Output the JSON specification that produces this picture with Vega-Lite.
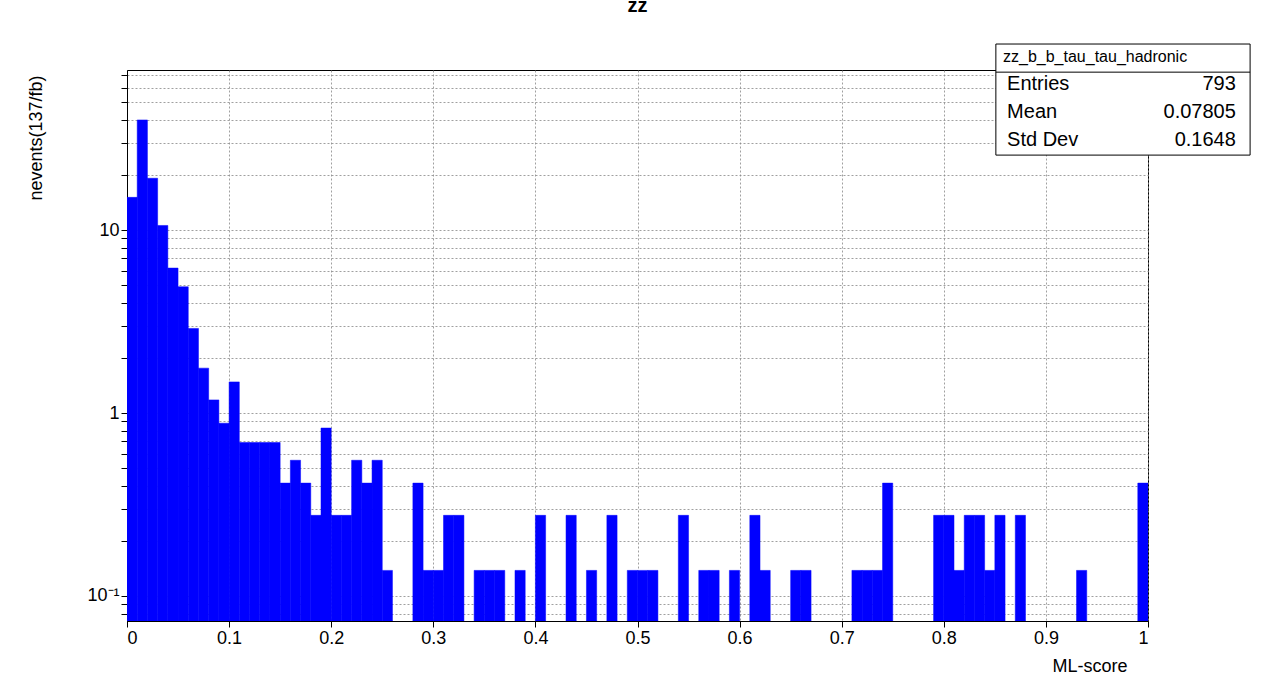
{
  "$schema": "https://vega.github.io/schema/vega-lite/v6.json",
  "autosize": "none",
  "width": 1021,
  "height": 551,
  "padding": {"left": 127, "top": 70, "right": 128, "bottom": 71},
  "background": "white",
  "config": {
    "font": "Liberation Sans",
    "view": {"stroke": "black", "strokeWidth": 1},
    "axis": {"gridColor": "#888", "gridDash": [2, 2], "gridWidth": 0.8, "domainColor": "black", "tickColor": "black", "labelColor": "black", "titleColor": "black", "labelFontSize": 18, "titleFontSize": 18, "titleFontWeight": "normal"}
  },
  "title": {"text": "zz", "fontSize": 20, "fontWeight": "bold", "offset": 30, "color": "black", "baseline": "middle", "dy": 12},
  "datasets": {
    "bins": [
      {"lo": 0.00, "n": 15.1}, {"lo": 0.01, "n": 40}, {"lo": 0.02, "n": 19.2}, {"lo": 0.03, "n": 10.6},
      {"lo": 0.04, "n": 6.2}, {"lo": 0.05, "n": 4.9}, {"lo": 0.06, "n": 2.9}, {"lo": 0.07, "n": 1.76},
      {"lo": 0.08, "n": 1.18}, {"lo": 0.09, "n": 0.88}, {"lo": 0.10, "n": 1.48}, {"lo": 0.11, "n": 0.69},
      {"lo": 0.12, "n": 0.69}, {"lo": 0.13, "n": 0.69}, {"lo": 0.14, "n": 0.69}, {"lo": 0.15, "n": 0.414},
      {"lo": 0.16, "n": 0.552}, {"lo": 0.17, "n": 0.414}, {"lo": 0.18, "n": 0.276}, {"lo": 0.19, "n": 0.828},
      {"lo": 0.20, "n": 0.276}, {"lo": 0.21, "n": 0.276}, {"lo": 0.22, "n": 0.552}, {"lo": 0.23, "n": 0.414},
      {"lo": 0.24, "n": 0.552}, {"lo": 0.25, "n": 0.138}, {"lo": 0.28, "n": 0.414}, {"lo": 0.29, "n": 0.138},
      {"lo": 0.30, "n": 0.138}, {"lo": 0.31, "n": 0.276}, {"lo": 0.32, "n": 0.276}, {"lo": 0.34, "n": 0.138},
      {"lo": 0.35, "n": 0.138}, {"lo": 0.36, "n": 0.138}, {"lo": 0.38, "n": 0.138}, {"lo": 0.40, "n": 0.276},
      {"lo": 0.43, "n": 0.276}, {"lo": 0.45, "n": 0.138}, {"lo": 0.47, "n": 0.276}, {"lo": 0.49, "n": 0.138},
      {"lo": 0.50, "n": 0.138}, {"lo": 0.51, "n": 0.138}, {"lo": 0.54, "n": 0.276}, {"lo": 0.56, "n": 0.138},
      {"lo": 0.57, "n": 0.138}, {"lo": 0.59, "n": 0.138}, {"lo": 0.61, "n": 0.276}, {"lo": 0.62, "n": 0.138},
      {"lo": 0.65, "n": 0.138}, {"lo": 0.66, "n": 0.138}, {"lo": 0.71, "n": 0.138}, {"lo": 0.72, "n": 0.138},
      {"lo": 0.73, "n": 0.138}, {"lo": 0.74, "n": 0.414}, {"lo": 0.79, "n": 0.276}, {"lo": 0.80, "n": 0.276},
      {"lo": 0.81, "n": 0.138}, {"lo": 0.82, "n": 0.276}, {"lo": 0.83, "n": 0.276}, {"lo": 0.84, "n": 0.138},
      {"lo": 0.85, "n": 0.276}, {"lo": 0.87, "n": 0.276}, {"lo": 0.93, "n": 0.138}, {"lo": 0.99, "n": 0.414}
    ],
    "stats": [
      {"label": "Entries", "value": "793", "y": 63},
      {"label": "Mean", "value": "0.07805", "y": 44},
      {"label": "Std Dev", "value": "0.1648", "y": 31}
    ]
  },
  "layer": [
    {
      "data": {"name": "bins"},
      "transform": [{"calculate": "datum.lo + 0.01", "as": "hi"}],
      "mark": {"type": "bar", "fill": "#0000ff", "stroke": "#0000ff", "strokeWidth": 0.5, "clip": true},
      "encoding": {
        "x": {"field": "lo", "type": "quantitative", "scale": {"domain": [0, 1], "nice": false},
          "axis": {"values": [0, 0.1, 0.2, 0.3, 0.4, 0.5, 0.6, 0.7, 0.8, 0.9, 1], "labelExpr": "datum.value == 0 || datum.value == 1 ? format(datum.value, 'd') : format(datum.value, '.1f')", "title": "ML-score", "titleAnchor": "end", "titleAlign": "right", "titleX": 1000, "titleY": 36, "tickSize": 6, "labelPadding": 2}},
        "x2": {"field": "hi"},
        "y": {"field": "n", "type": "quantitative", "scale": {"type": "log", "domain": [0.073, 75], "nice": false},
          "axis": {"values": [0.08, 0.09, 0.1, 0.2, 0.3, 0.4, 0.5, 0.6, 0.7, 0.8, 0.9, 1, 2, 3, 4, 5, 6, 7, 8, 9, 10, 20, 30, 40, 50, 60, 70],
            "labelExpr": "datum.value == 0.1 ? '10⁻¹' : (datum.value == 1 || datum.value == 10) ? format(datum.value, 'd') : ''",
            "title": "nevents(137/fb)", "titleAnchor": "end", "titleX": -82, "titleY": 5, "tickSize": 6}},
        "y2": {"datum": 0.073}
      }
    },
    {
      "data": {"values": [{}]},
      "mark": {"type": "rect", "fill": "white", "stroke": "black", "strokeWidth": 1, "clip": false},
      "encoding": {"x": {"datum": 0.851}, "x2": {"datum": 1.1}, "y": {"datum": 104}, "y2": {"datum": 25.7}}
    },
    {
      "data": {"values": [{}]},
      "mark": {"type": "rule", "stroke": "black", "strokeWidth": 1, "clip": false},
      "encoding": {"x": {"datum": 0.851}, "x2": {"datum": 1.1}, "y": {"datum": 73}}
    },
    {
      "data": {"values": [{"t": "zz_b_b_tau_tau_hadronic"}]},
      "mark": {"type": "text", "fontSize": 16, "align": "left", "baseline": "middle", "clip": false, "color": "black"},
      "encoding": {"x": {"datum": 0.858}, "y": {"datum": 88}, "text": {"field": "t"}}
    },
    {
      "data": {"name": "stats"},
      "mark": {"type": "text", "fontSize": 20, "align": "left", "baseline": "middle", "clip": false, "color": "black"},
      "encoding": {"x": {"datum": 0.862}, "y": {"field": "y", "type": "quantitative"}, "text": {"field": "label"}}
    },
    {
      "data": {"name": "stats"},
      "mark": {"type": "text", "fontSize": 20, "align": "right", "baseline": "middle", "clip": false, "color": "black"},
      "encoding": {"x": {"datum": 1.086}, "y": {"field": "y", "type": "quantitative"}, "text": {"field": "value"}}
    }
  ]
}
